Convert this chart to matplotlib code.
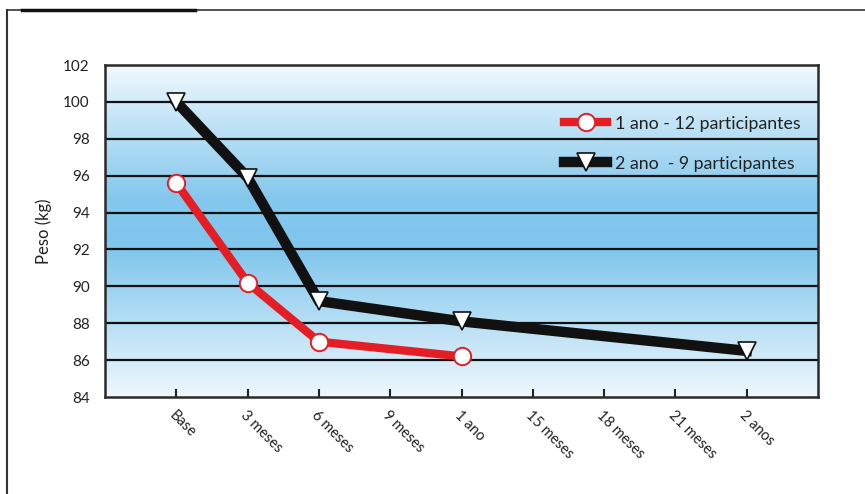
import numpy as np
import matplotlib
matplotlib.use("Agg")
import matplotlib.pyplot as plt
from matplotlib.colors import LinearSegmentedColormap
from matplotlib.lines import Line2D

plt.rcParams['font.family'] = ['Lato', 'DejaVu Sans']

categories = ["Base", "3 meses", "6 meses", "9 meses", "1 ano",
              "15 meses", "18 meses", "21 meses", "2 anos"]

# Weight at each visit (index into categories)
grupo1_idx = [0, 1, 2, 4]
grupo1_peso = [95.6, 90.2, 87.0, 86.2]
grupo2_idx = [0, 1, 2, 4, 8]
grupo2_peso = [100.0, 95.9, 89.2, 88.1, 86.5]

label1 = "1 ano - 12 participantes"
label2 = "2 ano  - 9 participantes"

yticks = list(range(84, 103, 2))

fig = plt.figure(figsize=(8.65, 4.94), dpi=100)
fig.patch.set_facecolor("white")

ax = fig.add_axes([105 / 865, 97 / 494, 713 / 865, 332 / 494])

# vertical blue gradient background
cmap = LinearSegmentedColormap.from_list(
    "bg", [(0.0, "#eef7fd"), (0.45, "#7fc6ec"), (0.6, "#84c8ed"), (1.0, "#f0f8fd")])
grad = np.linspace(0, 1, 256).reshape(-1, 1)
ax.imshow(grad, cmap=cmap, aspect="auto", extent=[-1, 9, 102, 84],
          zorder=0, interpolation="bicubic")

ax.set_xlim(-1, 9)
ax.set_ylim(84, 102)

for y in yticks[1:-1]:
    ax.axhline(y, color="#111111", lw=1.6, zorder=1)

ax.plot(grupo2_idx, grupo2_peso, color="#111111", lw=7.5, zorder=3,
        marker="v", markersize=13, markerfacecolor="white",
        markeredgecolor="#111111", markeredgewidth=1.2, solid_joinstyle="miter")
ax.plot(grupo1_idx, grupo1_peso, color="#e31e24", lw=6, zorder=4,
        marker="o", markersize=12.5, markerfacecolor="white",
        markeredgecolor="#e31e24", markeredgewidth=1.4)

ax.set_yticks(yticks)
ax.set_yticklabels([str(v) for v in yticks], fontsize=11, color="#222222")
ax.tick_params(axis="y", length=0, pad=11)

ax.set_xticks(range(len(categories)))
ax.set_xticklabels(categories, rotation=-45, ha="left", va="top",
                   rotation_mode="anchor", fontsize=10.5, color="#222222")
ax.tick_params(axis="x", direction="in", length=6, width=1.5, color="#222222", pad=8)

for s in ax.spines.values():
    s.set_color("#2a2a2a")
    s.set_linewidth(1.8)

ax.set_ylabel("Peso (kg)", fontsize=12, color="#222222", labelpad=8)

handles = [
    Line2D([], [], color="#e31e24", lw=6, marker="o", markersize=12.5,
           markerfacecolor="white", markeredgecolor="#e31e24", markeredgewidth=1.4),
    Line2D([], [], color="#111111", lw=7.5, marker="v", markersize=13,
           markerfacecolor="white", markeredgecolor="#111111", markeredgewidth=1.2),
]
leg = ax.legend(handles, [label1, label2], loc="upper right",
                bbox_to_anchor=(0.993, 0.885), frameon=False, fontsize=12.8,
                handlelength=2.4, labelspacing=1.35, handletextpad=0.45,
                borderpad=0.2, labelcolor="#222222")

# outer frame lines
fig.add_artist(Line2D([7 / 865, 7 / 865], [0, 1 - 10 / 494], color="#333333", lw=1.5))
fig.add_artist(Line2D([7 / 865, 1], [1 - 10 / 494, 1 - 10 / 494], color="#333333", lw=1.2))
fig.add_artist(Line2D([22 / 865, 195 / 865], [1 - 10.5 / 494, 1 - 10.5 / 494],
                      color="#111111", lw=2.5))

fig.savefig("out.png", dpi=100)
